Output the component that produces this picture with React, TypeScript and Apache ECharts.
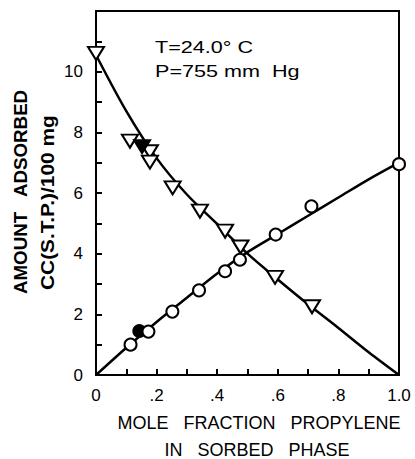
import React, { useEffect, useRef } from "react";
import * as echarts from "echarts";

// Smoothed curves
const curveX = [0, 0.1, 0.2, 0.3, 0.4, 0.5, 0.6, 0.7, 0.8, 0.9, 1.0];
const butaneCurve = [10.55, 8.7, 7.15, 5.95, 4.98, 4.0, 3.15, 2.33, 1.55, 0.75, 0];
const propyleneCurve = [0, 0.9, 1.75, 2.55, 3.35, 4.05, 4.65, 5.25, 5.85, 6.45, 7.0];

// Measured points
const triX = [0, 0.112, 0.178, 0.178, 0.253, 0.343, 0.426, 0.477, 0.591, 0.713];
const triY = [10.6, 7.71, 7.36, 7.02, 6.17, 5.4, 4.74, 4.22, 3.22, 2.25];
const triFilledX = [0.152];
const triFilledY = [7.53];

const circX = [0.114, 0.173, 0.252, 0.34, 0.426, 0.475, 0.593, 0.711, 1.0];
const circY = [1.0, 1.43, 2.09, 2.79, 3.42, 3.8, 4.63, 5.56, 6.95];
const circFilledX = [0.143];
const circFilledY = [1.45];

const xTicks = [0, 0.1, 0.2, 0.3, 0.4, 0.5, 0.6, 0.7, 0.8, 0.9, 1.0];
const xTickLabels = ["0", "", ".2", "", ".4", "", ".6", "", ".8", "", "1.0"];
const yTickLabels = ["0", "", "2", "", "4", "", "6", "", "8", "", "10", "", ""];

const FONT = "Liberation Sans";

const zip = (a: number[], b: number[]) => a.map((v, i) => [v, b[i]]);

export default function App() {
  const ref = useRef<HTMLDivElement>(null);
  useEffect(() => {
    if (!ref.current) return;
    const chart = echarts.init(ref.current, null, { renderer: "svg" });
    const lineStyle = { color: "#000", width: 2.5 };
    const openStyle = { color: "#fff", borderColor: "#000", borderWidth: 2, opacity: 1 };
    const filledStyle = { color: "#000", borderColor: "#000", borderWidth: 2, opacity: 1 };
    chart.setOption({
      animation: false,
      backgroundColor: "#fff",
      grid: {
        left: 96,
        right: 16,
        top: 11,
        bottom: 84,
        show: true,
        borderColor: "#000",
        borderWidth: 2,
      },
      xAxis: {
        type: "value",
        min: 0,
        max: 1,
        interval: 0.1,
        splitLine: { show: false },
        axisLine: { lineStyle: { color: "#000", width: 2 } },
        axisTick: { inside: true, length: 6, lineStyle: { color: "#000", width: 2 } },
        axisLabel: {
          margin: 12,
          color: "#000",
          fontSize: 17,
          fontFamily: FONT,
          showMaxLabel: true,
          formatter: (v: number) => {
            const i = xTicks.findIndex((t) => Math.abs(t - v) < 1e-6);
            return i >= 0 ? xTickLabels[i] : "";
          },
        },
      },
      yAxis: {
        type: "value",
        min: 0,
        max: 12,
        interval: 1,
        splitLine: { show: false },
        axisLine: { lineStyle: { color: "#000", width: 2 } },
        axisTick: { inside: true, length: 6, lineStyle: { color: "#000", width: 2 } },
        axisLabel: {
          margin: 13,
          color: "#000",
          fontSize: 17,
          fontFamily: FONT,
          formatter: (v: number) => yTickLabels[Math.round(v)] ?? "",
        },
      },
      series: [
        {
          type: "line",
          data: zip(curveX, butaneCurve),
          smooth: 0.3,
          showSymbol: false,
          lineStyle,
          z: 2,
        },
        {
          type: "line",
          data: zip(curveX, propyleneCurve),
          smooth: 0.3,
          showSymbol: false,
          lineStyle,
          z: 2,
        },
        {
          type: "scatter",
          data: zip(triX, triY),
          symbol: "triangle",
          symbolRotate: 180,
          symbolSize: [16, 13],
          itemStyle: openStyle,
          z: 3,
        },
        {
          type: "scatter",
          data: zip(triFilledX, triFilledY),
          symbol: "triangle",
          symbolRotate: 180,
          symbolSize: [16, 13],
          itemStyle: filledStyle,
          z: 3,
        },
        {
          type: "scatter",
          data: zip(circX, circY),
          symbol: "circle",
          symbolSize: 12,
          itemStyle: openStyle,
          z: 4,
        },
        {
          type: "scatter",
          data: zip(circFilledX, circFilledY),
          symbol: "circle",
          symbolSize: 12,
          itemStyle: filledStyle,
          z: 3,
        },
      ],
      graphic: [
        {
          type: "text",
          x: 155,
          y: 48,
          scaleX: 1.35,
          style: { text: "T=24.0° C", fontSize: 16, fontFamily: FONT, fill: "#000", align: "left", verticalAlign: "middle" },
        },
        {
          type: "text",
          x: 155,
          y: 72,
          scaleX: 1.35,
          style: { text: "P=755 mm  Hg", fontSize: 16, fontFamily: FONT, fill: "#000", align: "left", verticalAlign: "middle" },
        },
        {
          type: "text",
          x: 259,
          y: 423,
          style: {
            text: "MOLE   FRACTION   PROPYLENE",
            fontSize: 18,
            fontFamily: FONT,
            fill: "#000",
            align: "center",
            verticalAlign: "middle",
          },
        },
        {
          type: "text",
          x: 257,
          y: 450,
          style: {
            text: "IN   SORBED   PHASE",
            fontSize: 18,
            fontFamily: FONT,
            fill: "#000",
            align: "center",
            verticalAlign: "middle",
          },
        },
        {
          type: "text",
          x: 21,
          y: 294,
          rotation: Math.PI / 2,
          scaleX: 1.04,
          style: {
            text: "AMOUNT   ADSORBED",
            fontSize: 18,
            fontWeight: "bold",
            fontFamily: FONT,
            fill: "#000",
            align: "left",
            verticalAlign: "middle",
          },
        },
        {
          type: "text",
          x: 48,
          y: 290,
          rotation: Math.PI / 2,
          scaleX: 1.16,
          style: {
            text: "CC(S.T.P.)/100 mg",
            fontSize: 18,
            fontWeight: "bold",
            fontFamily: FONT,
            fill: "#000",
            align: "left",
            verticalAlign: "middle",
          },
        },
      ],
    });
    return () => chart.dispose();
  }, []);
  return <div ref={ref} style={{ width: 415, height: 459, position: "absolute", left: 0, top: 0 }} />;
}
